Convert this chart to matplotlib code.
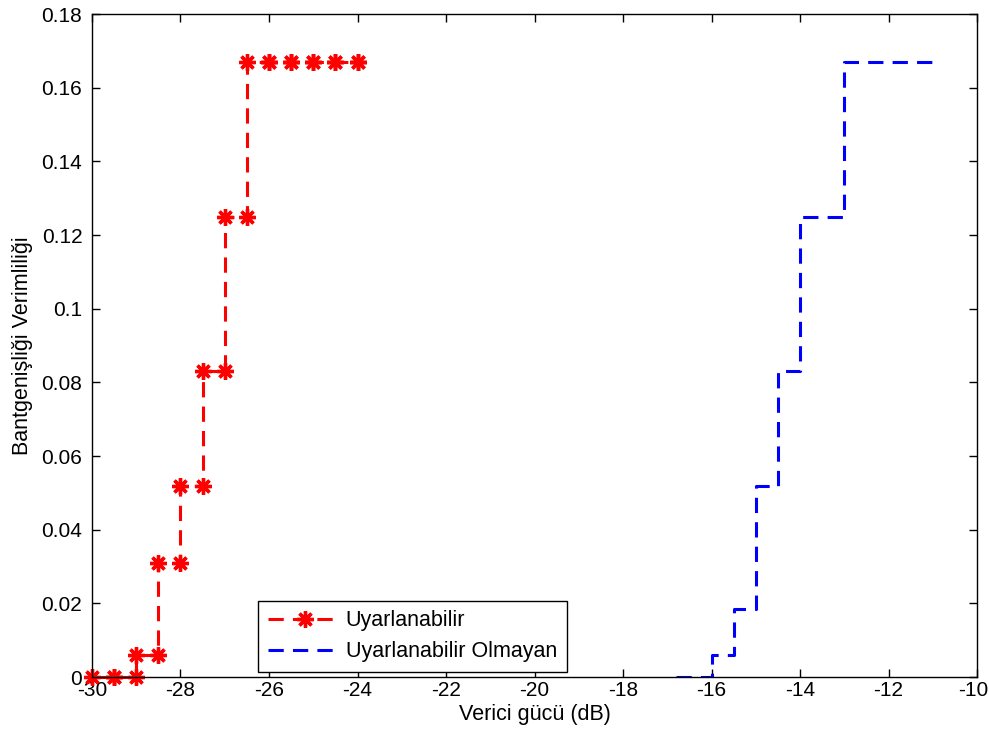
import numpy as np
import matplotlib
matplotlib.use("Agg")
import matplotlib.pyplot as plt
from matplotlib.ticker import FormatStrFormatter
from matplotlib.transforms import ScaledTranslation

# Uyarlanabilir (adaptive) - stairs data
x_adapt = [-30, -29.5, -29, -28.5, -28, -27.5, -27, -26.5, -26, -25.5, -25, -24.5, -24]
y_adapt = [0, 0, 0.006, 0.031, 0.052, 0.083, 0.125, 0.167, 0.167, 0.167, 0.167, 0.167, 0.167]

# Uyarlanabilir Olmayan (non-adaptive) - stairs data
x_fixed = [-16.8, -16, -15.5, -15, -14.5, -14, -13, -11]
y_fixed = [0, 0.006, 0.0185, 0.052, 0.083, 0.125, 0.167, 0.167]

labels = ['Uyarlanabilir', 'Uyarlanabilir Olmayan']


def stairs(x, y):
    # vertices like MATLAB stairs(): horizontal then vertical
    x = np.asarray(x, dtype=float)
    y = np.asarray(y, dtype=float)
    xs = np.repeat(x, 2)[1:]
    ys = np.repeat(y, 2)[:-1]
    return xs, ys


plt.rcParams['font.family'] = ['Liberation Sans', 'DejaVu Sans']
plt.rcParams['font.size'] = 15.5
plt.rcParams['axes.unicode_minus'] = False

fig = plt.figure(figsize=(9.89, 7.44), dpi=100)
ax = fig.add_axes([0.093, 0.09, 0.895, 0.891])

xs, ys = stairs(x_adapt, y_adapt)
ax.plot(xs, ys, color='red', lw=2.2, dashes=(5, 3), marker=(8, 2, 0),
        markersize=12, markeredgewidth=2.4, clip_on=False, label=labels[0])

xs, ys = stairs(x_fixed, y_fixed)
ax.plot(xs, ys, color='blue', lw=2.2, dashes=(5, 3), label=labels[1])

ax.set_xlim(-30, -10)
ax.set_ylim(0, 0.18)
ax.set_xticks(np.arange(-30, -9, 2))
ax.set_yticks(np.arange(0, 0.181, 0.02))
ax.yaxis.set_major_formatter(FormatStrFormatter('%g'))
ax.tick_params(direction='in', top=True, right=True, length=6, width=1, labelsize=15)
ax.tick_params(axis='x', pad=3)
ax.tick_params(axis='y', pad=7)
for s in ax.spines.values():
    s.set_linewidth(1)

ax.set_xlabel('Verici gücü (dB)', labelpad=3)
ax.set_ylabel('Bantgenişliği Verimliliği', labelpad=6)

leg = ax.legend(loc='lower left', bbox_to_anchor=(0.188, 0.008), borderaxespad=0,
                fancybox=False, edgecolor='black', framealpha=1, handlelength=3.4,
                handletextpad=0.2, borderpad=0.45, labelspacing=0.45)
leg.get_frame().set_linewidth(1)

# keep the last x tick label inside the figure
fig.canvas.draw()
last = ax.xaxis.get_major_ticks()[-1].label1
last.set_transform(last.get_transform() + ScaledTranslation(-3 / 72, 0, fig.dpi_scale_trans))

fig.savefig('out.png', dpi=100)
